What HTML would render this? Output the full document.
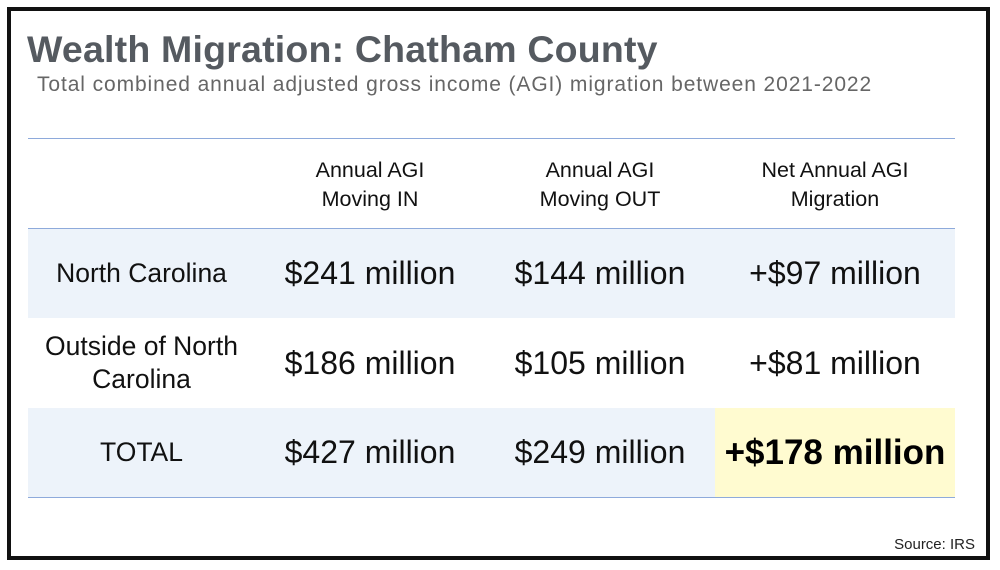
<!DOCTYPE html>
<html><head><style>
body{margin:0;background:#fff;width:1000px;height:570px;position:relative;overflow:hidden;font-family:"Liberation Sans",sans-serif}
.frame{position:absolute;left:7px;top:7px;width:975px;height:545px;border:4px solid #111;}
.title{position:absolute;left:27px;top:28px;font-size:37.5px;font-weight:bold;color:#555a60;letter-spacing:0.2px}
.sub{position:absolute;left:37px;top:73px;font-size:21px;color:#666;letter-spacing:0.9px}
.hl{position:absolute;left:28px;width:927px;height:1px;background:#8eaadb}
.cell{position:absolute;display:flex;align-items:center;justify-content:center;text-align:center;color:#111}
.bg{position:absolute;left:28px;width:927px;background:#edf3fa}
.src{position:absolute;right:25px;top:536px;font-size:15px;color:#222}
.h{font-size:21.5px;line-height:29px}
.v{font-size:32px}
.l{font-size:26.5px}
</style></head><body>
<div class="frame"></div>
<div class="title">Wealth Migration: Chatham County</div>
<div class="sub">Total combined annual adjusted gross income (AGI) migration between 2021-2022</div>
<div class="bg" style="top:229px;height:89px"></div>
<div class="bg" style="top:408px;height:89px"></div>
<div style="position:absolute;left:715px;top:408px;width:240px;height:89px;background:#fffbd0"></div>
<div class="hl" style="top:138px"></div>
<div class="hl" style="top:228px"></div>
<div class="hl" style="top:497px"></div>

<div class="cell h" style="left:255px;top:152px;width:230px;height:66px">Annual AGI<br>Moving IN</div>
<div class="cell h" style="left:485px;top:152px;width:230px;height:66px">Annual AGI<br>Moving OUT</div>
<div class="cell h" style="left:715px;top:152px;width:240px;height:66px">Net Annual AGI<br>Migration</div>

<div class="cell l" style="left:28px;top:229px;width:227px;height:89px">North Carolina</div>
<div class="cell v" style="left:255px;top:229px;width:230px;height:89px">$241 million</div>
<div class="cell v" style="left:485px;top:229px;width:230px;height:89px">$144 million</div>
<div class="cell v" style="left:715px;top:229px;width:240px;height:89px">+$97 million</div>

<div class="cell l" style="left:28px;top:318px;width:227px;height:90px;line-height:33px">Outside of North<br>Carolina</div>
<div class="cell v" style="left:255px;top:318px;width:230px;height:90px">$186 million</div>
<div class="cell v" style="left:485px;top:318px;width:230px;height:90px">$105 million</div>
<div class="cell v" style="left:715px;top:318px;width:240px;height:90px">+$81 million</div>

<div class="cell l" style="left:28px;top:408px;width:227px;height:89px">TOTAL</div>
<div class="cell v" style="left:255px;top:408px;width:230px;height:89px">$427 million</div>
<div class="cell v" style="left:485px;top:408px;width:230px;height:89px">$249 million</div>
<div class="cell" style="left:715px;top:408px;width:240px;height:89px;font-size:35px;font-weight:bold;color:#000">+$178 million</div>

<div class="src">Source: IRS</div>
</body></html>
